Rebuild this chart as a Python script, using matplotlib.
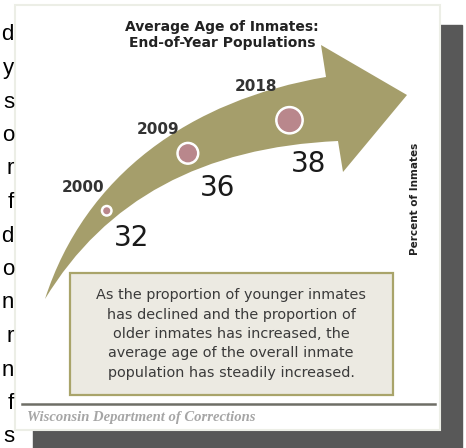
import numpy as np
import matplotlib.pyplot as plt
from matplotlib.path import Path
from matplotlib.patches import PathPatch, Rectangle, Circle

# data
years = [2000, 2009, 2018]
avg_age = [32, 36, 38]
title_lines = ['Average Age of Inmates:', 'End-of-Year Populations']
box_lines = ['As the proportion of younger inmates',
             'has declined and the proportion of',
             'older inmates has increased, the',
             'average age of the overall inmate',
             'population has steadily increased.']
side_label = 'Percent of Inmates'
footer = 'Wisconsin Department of Corrections'
edge_letters = ['d', 'y', 's', 'o', 'r', 'f', 'd', 'o', 'n', 'r', 'n', 'f', 's']

arrow_col = '#a59e6b'
dot_col = '#b9878c'

fig = plt.figure(figsize=(4.66, 4.48), dpi=100)
ax = fig.add_axes([0, 0, 1, 1])
ax.set_xlim(0, 466)
ax.set_ylim(448, 0)
ax.axis('off')

# card + shadow
ax.add_patch(Rectangle((33, 25), 429, 423, color='#585858', zorder=0))
ax.add_patch(Rectangle((15, 5), 425, 425, facecolor='white', edgecolor='#eceee6', lw=1.5, zorder=1))

# curved arrow (pixel coords of the card)
tail = np.array([45, 299])
up_c1, up_c2, up_end = np.array([85, 175]), np.array([190, 100]), np.array([326, 77])
lo_c, lo_end = np.array([135, 150]), np.array([338, 141])
head_top, tip, head_bot = (321, 45), (407, 95), (343, 172)

verts = [tuple(tail), tuple(up_c1), tuple(up_c2), tuple(up_end),
         head_top, tip, head_bot, tuple(lo_end),
         tuple(lo_c), tuple(tail), tuple(tail)]
codes = [Path.MOVETO, Path.CURVE4, Path.CURVE4, Path.CURVE4,
         Path.LINETO, Path.LINETO, Path.LINETO, Path.LINETO,
         Path.CURVE3, Path.CURVE3, Path.CLOSEPOLY]
ax.add_patch(PathPatch(Path(verts, codes), facecolor=arrow_col, edgecolor='none', zorder=2))


def upper(t):
    return ((1 - t) ** 3 * tail + 3 * (1 - t) ** 2 * t * up_c1
            + 3 * (1 - t) * t ** 2 * up_c2 + t ** 3 * up_end)


def lower(t):
    return (1 - t) ** 2 * tail + 2 * (1 - t) * t * lo_c + t ** 2 * lo_end


# dots along the arrow, sized by age
year_off = [(-24, -23), (-30, -24), (-33, -34)]
age_off = [(25, 27), (30, 35), (19, 44)]
for i, (yr, age) in enumerate(zip(years, avg_age)):
    t = 0.31 + (yr - 2000) / 18 * 0.58
    cx, cy = 0.42 * upper(t) + 0.58 * lower(t)
    r = (age - 30) * 1.4
    ax.add_patch(Circle((cx, cy), r + 2.5, color='white', zorder=3))
    ax.add_patch(Circle((cx, cy), r, color=dot_col, zorder=4))
    ax.text(cx + year_off[i][0], cy + year_off[i][1], str(yr), fontsize=11, fontweight='bold',
            color='#333333', ha='center', va='center', zorder=5)
    ax.text(cx + age_off[i][0], cy + age_off[i][1], str(age), fontsize=20,
            color='#1a1a1a', ha='center', va='center', zorder=5)

# title
ax.text(222, 27, title_lines[0], fontsize=10, fontweight='bold', color='#222222', ha='center', va='center', zorder=5)
ax.text(222, 43, title_lines[1], fontsize=10, fontweight='bold', color='#222222', ha='center', va='center', zorder=5)

# side label
ax.text(415, 199, side_label, rotation=90, fontsize=7.5, fontweight='bold', color='#222222',
        family=['Liberation Sans Narrow', 'DejaVu Sans'], ha='center', va='center', zorder=5)

# text box
ax.add_patch(Rectangle((70, 273), 323, 122, facecolor='#eceae2', edgecolor='#a9a46a', lw=1.6, zorder=2))
for k, line in enumerate(box_lines):
    ax.text(231, 295 + 19.5 * k, line, fontsize=10.4, color='#3a3a3a', ha='center', va='center', zorder=5)

# footer
ax.plot([22, 435], [404, 404], color='#6e6e66', lw=1.8, zorder=3)
ax.text(27, 417, footer, fontsize=10.5, style='italic', fontweight='bold', color='#a6a6a6',
        family='Liberation Serif', ha='left', va='center', zorder=5)

# clipped paragraph letters on the far left
for k, ch in enumerate(edge_letters):
    ax.text(14, 35 + 33.5 * k, ch, fontsize=16, color='black', family='Liberation Sans',
            ha='right', va='center', zorder=5)

fig.savefig('out.png', dpi=100)
